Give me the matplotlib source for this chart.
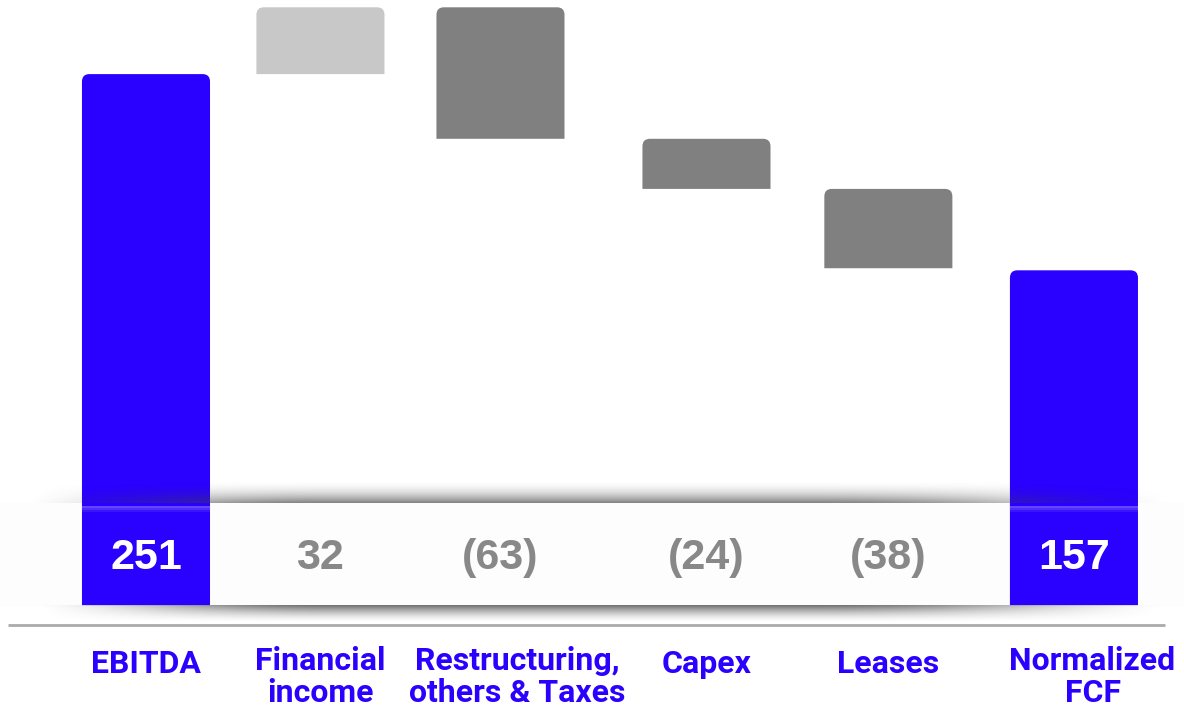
import numpy as np
import matplotlib.pyplot as plt
from matplotlib.path import Path
from matplotlib.patches import PathPatch

categories = ["EBITDA", "Financial\nincome", "Restructuring,\nothers & Taxes",
              "Capex", "Leases", "Normalized\nFCF"]
value_labels = ["251", "32", "(63)", "(24)", "(38)", "157"]
start_value = 251
deltas = [32, -63, -24, -38]
end_value = 157

# layout (bar centres and label centres in bar units)
xpos = [0, 0.94, 1.91, 3.02, 4.0, 5.0]
label_x = [0, 0.94, 2.0, 3.02, 4.0, 5.1]
width = 0.69

blue = "#2A00FF"
light_gray = "#C8C8C8"
dark_gray = "#808080"

plt.rcParams['font.family'] = ['Roboto', 'DejaVu Sans']

fig = plt.figure(figsize=(11.84, 7.12), dpi=100)
ax = fig.add_axes([0, 0, 1, 1])
XL = (-0.7866, 5.593)
YL = (-54.6, 286.5)
ax.set_xlim(*XL)
ax.set_ylim(*YL)
ax.axis("off")

base = -3.4      # bottom of the value band
band_top = 45.5

# waterfall geometry
tops, bottoms, colors = [start_value], [base], [blue]
level = start_value
for d in deltas:
    new = level + d
    tops.append(max(level, new))
    bottoms.append(min(level, new))
    colors.append(light_gray if d > 0 else dark_gray)
    level = new
tops.append(end_value)
bottoms.append(base)
colors.append(blue)

# white band behind the values
ax.axhspan(base, band_top, color="#FDFDFD", zorder=0)

# bars, then give each one rounded top corners
bars = ax.bar(xpos, [t - b for t, b in zip(tops, bottoms)], width=width,
              bottom=bottoms, color=colors, zorder=2)
rx, ry = 0.04, 3.6
for r in bars:
    x0, y0 = r.get_x(), r.get_y()
    x1, y1 = x0 + r.get_width(), y0 + r.get_height()
    verts = [(x0, y0), (x0, y1 - ry), (x0, y1), (x0 + rx, y1),
             (x1 - rx, y1), (x1, y1), (x1, y1 - ry), (x1, y0), (x0, y0)]
    codes = [Path.MOVETO, Path.LINETO, Path.CURVE3, Path.CURVE3,
             Path.LINETO, Path.CURVE3, Path.CURVE3, Path.LINETO, Path.CLOSEPOLY]
    ax.add_patch(PathPatch(Path(verts, codes), fc=r.get_facecolor(),
                           ec="none", zorder=2))
    r.remove()

# soft highlight at top of band inside blue bars
for x, c in zip(xpos, colors):
    if c == blue:
        for k, a in enumerate([0.28, 0.18, 0.08]):
            ax.bar(x, 1.0, width=width, bottom=band_top - 2.5 - k, color="white",
                   alpha=a, zorder=3, linewidth=0)

# shadows above and below the band
xs = np.linspace(0, 1, 400)
def profile(x, a, b):
    p = np.clip((x - a) / 0.25, 0, 1) * np.clip((b - x) / 0.3, 0, 1)
    return np.sin(p * np.pi / 2) ** 1.5

ys = np.linspace(0, 1, 60)
prof = profile(xs, 0.02, 0.99)
img = np.zeros((60, 400, 4))
img[..., :3] = 0.25
img[..., 3] = (ys[:, None] ** 2.0) * prof[None, :] * 0.65
ax.imshow(img, extent=(XL[0], XL[1], band_top, band_top + 11), origin="upper",
          aspect="auto", zorder=3, interpolation="bilinear")

prof2 = profile(xs, 0.03, 0.985)
img2 = np.zeros((60, 400, 4))
img2[..., :3] = 0.25
img2[..., 3] = ((1 - ys[:, None]) ** 1.5) * prof2[None, :] * 0.75
ax.imshow(img2, extent=(XL[0], XL[1], base - 8.0, base), origin="upper",
          aspect="auto", zorder=3, interpolation="bilinear")

ax.set_xlim(*XL)
ax.set_ylim(*YL)

# baseline rule
ax.plot([-0.744, 5.49], [-12.9, -12.9], color="#AAAAAA", lw=2, zorder=3,
        solid_capstyle="butt")

# value labels in the band
for x, lab, c in zip(xpos, value_labels, colors):
    ax.text(x, 19.2, lab, ha="center", va="center", fontsize=31,
            fontweight="bold", color="white" if c == blue else "#888888",
            family=["Liberation Sans", "DejaVu Sans"], zorder=4)

# category labels
for x, lab in zip(label_x, categories):
    y = -37.8 if "\n" in lab else -31.5
    ax.text(x, y, lab, ha="center", va="center", fontsize=23,
            fontweight="bold", color=blue, linespacing=1.1, zorder=4)

fig.savefig("out.png", dpi=100)
